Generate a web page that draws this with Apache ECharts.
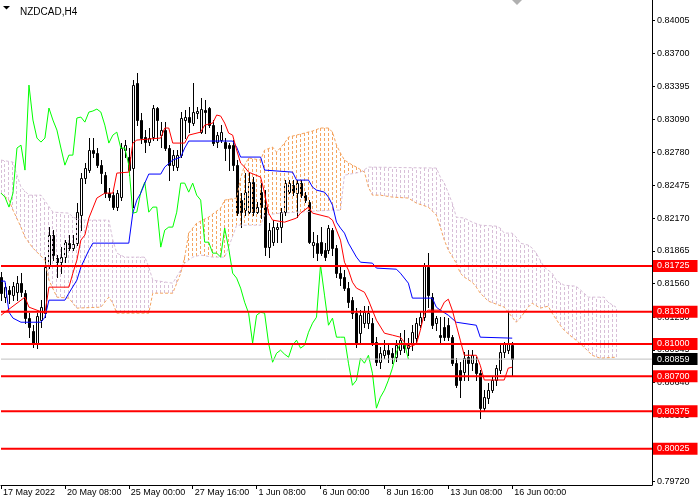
<!DOCTYPE html>
<html><head><meta charset="utf-8">
<script src="https://cdn.jsdelivr.net/npm/echarts@6/dist/echarts.min.js"></script>
<style>html,body{margin:0;padding:0;background:#fff}#c{width:700px;height:500px}</style>
</head><body><div id="c"></div>
<script>
const symbolName = 'NZDCAD,H4';
// [open, close, low, high] per H4 bar
const candles = [
[0.81621,0.81472,0.81407,0.81667],[0.81435,0.81528,0.81388,0.81565],[0.81500,0.81463,0.81379,0.81537],[0.81454,0.81537,0.81407,0.81574],
[0.81481,0.81565,0.81407,0.81630],[0.81565,0.81481,0.81444,0.81658],[0.81472,0.81240,0.81193,0.81500],[0.81240,0.81156,0.81063,0.81286],
[0.81119,0.81007,0.80970,0.81174],[0.81007,0.81258,0.80961,0.81286],[0.81221,0.81342,0.81156,0.81407],[0.81286,0.81714,0.81249,0.81807],
[0.81733,0.82012,0.81705,0.82086],[0.82012,0.81826,0.81779,0.82058],[0.81798,0.81760,0.81621,0.81826],[0.81760,0.81807,0.81658,0.81900],
[0.81807,0.81946,0.81760,0.81965],[0.81937,0.81891,0.81872,0.82012],[0.81891,0.81928,0.81872,0.82012],[0.81937,0.82225,0.81919,0.82309],
[0.82198,0.82542,0.82058,0.82588],[0.82542,0.82635,0.82495,0.82681],[0.82616,0.82802,0.82597,0.82914],[0.82802,0.82774,0.82737,0.82914],
[0.82774,0.82662,0.82644,0.82821],[0.82662,0.82588,0.82495,0.82709],[0.82569,0.82402,0.82365,0.82597],[0.82402,0.82365,0.82337,0.82449],
[0.82383,0.82272,0.82253,0.82411],[0.82272,0.82402,0.82244,0.82430],[0.82365,0.82821,0.82337,0.82867],[0.82802,0.82848,0.82737,0.82895],
[0.82737,0.82616,0.82569,0.82821],[0.82635,0.83406,0.82272,0.83453],[0.83425,0.83081,0.83034,0.83518],[0.83081,0.82914,0.82867,0.83146],
[0.82923,0.82876,0.82783,0.82988],[0.82876,0.82914,0.82848,0.83007],[0.82923,0.83193,0.82895,0.83220],[0.83193,0.83081,0.82895,0.83202],
[0.82941,0.82988,0.82830,0.83062],[0.82988,0.82821,0.82802,0.83062],[0.82821,0.82662,0.82523,0.82848],[0.82662,0.82755,0.82616,0.82802],
[0.82644,0.82755,0.82616,0.82802],[0.82755,0.83100,0.82737,0.83155],[0.83081,0.83109,0.82914,0.83174],[0.83109,0.83062,0.82969,0.83202],
[0.83053,0.83155,0.83034,0.83425],[0.83146,0.83165,0.83100,0.83202],[0.82969,0.83183,0.82960,0.83286],[0.83174,0.83155,0.82960,0.83267],
[0.83193,0.83034,0.83016,0.83202],[0.83034,0.82867,0.82848,0.83081],[0.82876,0.82941,0.82830,0.82969],[0.82895,0.82969,0.82876,0.83034],
[0.82876,0.82821,0.82709,0.82914],[0.82848,0.82821,0.82616,0.82867],[0.82848,0.82662,0.82616,0.82895],[0.82662,0.82216,0.82198,0.82709],
[0.82337,0.82225,0.82086,0.82402],[0.82244,0.82411,0.82198,0.82588],[0.82225,0.82504,0.82216,0.82588],[0.82504,0.82225,0.82198,0.82551],
[0.82225,0.82272,0.82216,0.82318],[0.82411,0.82272,0.82170,0.82495],[0.82272,0.81900,0.81826,0.82430],[0.81900,0.82058,0.81807,0.82123],
[0.81946,0.82086,0.81919,0.82151],[0.82067,0.82086,0.81946,0.82123],[0.82086,0.82225,0.81946,0.82263],[0.82225,0.82495,0.82198,0.82523],
[0.82411,0.82495,0.82402,0.82523],[0.82476,0.82411,0.82383,0.82523],[0.82402,0.82495,0.82179,0.82523],[0.82495,0.82383,0.82365,0.82523],
[0.82383,0.82337,0.82318,0.82411],[0.82318,0.81946,0.81937,0.82337],[0.81919,0.81946,0.81807,0.82039],[0.81937,0.81844,0.81779,0.82012],
[0.81946,0.81844,0.81826,0.82086],[0.81872,0.81807,0.81779,0.81937],[0.81872,0.82077,0.81844,0.82105],[0.82058,0.81891,0.81826,0.82077],
[0.81891,0.81658,0.81621,0.81919],[0.81658,0.81612,0.81546,0.81714],[0.81621,0.81519,0.81500,0.81686],[0.81519,0.81388,0.81342,0.81574],
[0.81407,0.81286,0.81240,0.81435],[0.81286,0.81007,0.80970,0.81333],[0.81100,0.81267,0.81007,0.81314],[0.81193,0.81295,0.81156,0.81351],
[0.81193,0.81286,0.81147,0.81351],[0.81193,0.81007,0.80988,0.81240],[0.81016,0.80830,0.80802,0.81063],[0.80830,0.80914,0.80775,0.80970],
[0.80895,0.80942,0.80868,0.81035],[0.80942,0.80905,0.80830,0.80988],[0.80914,0.80877,0.80821,0.80961],[0.80877,0.80988,0.80840,0.81035],
[0.80942,0.81035,0.80905,0.81100],[0.80988,0.80961,0.80923,0.81128],[0.80961,0.80988,0.80895,0.81054],[0.81007,0.81109,0.80942,0.81174],
[0.81054,0.81193,0.81016,0.81240],[0.81174,0.81249,0.81156,0.81295],[0.81249,0.81733,0.81221,0.81751],[0.81714,0.81454,0.81342,0.81844],
[0.81435,0.81174,0.81147,0.81472],[0.81193,0.81240,0.81128,0.81258],[0.81082,0.81063,0.81016,0.81249],[0.81156,0.81063,0.81035,0.81249],
[0.81174,0.81063,0.81035,0.81240],[0.81063,0.80821,0.80802,0.81082],[0.80821,0.80616,0.80598,0.80868],[0.80756,0.80663,0.80505,0.80830],
[0.80737,0.80868,0.80663,0.80923],[0.80877,0.80821,0.80663,0.80942],[0.80821,0.80895,0.80756,0.80942],[0.80821,0.80728,0.80663,0.80877],
[0.80728,0.80403,0.80310,0.80756],[0.80403,0.80505,0.80384,0.80570],[0.80496,0.80570,0.80449,0.80635],[0.80570,0.80663,0.80551,0.80691],
[0.80663,0.80775,0.80616,0.80802],[0.80756,0.80923,0.80728,0.81007],[0.80923,0.81007,0.80877,0.81016],[0.80942,0.81007,0.80914,0.81295],
[0.80988,0.80859,0.80711,0.81016]
];
// Ichimoku lines as [bar index, price] vertices
const tenkan = [[0,0.81267],[2,0.81323],[5,0.81407],[6,0.81435],[7,0.81342],[9,0.81314],[11,0.81286],[12,0.81528],[17,0.81528],[18,0.81658],[19,0.81779],[20,0.81965],[21,0.82012],[22,0.82170],[24,0.82356],[26,0.82402],[28,0.82402],[29,0.82588],[32,0.82597],[33,0.82867],[34,0.82895],[40,0.82914],[41,0.83007],[42,0.83007],[43,0.82867],[46,0.82867],[47,0.82941],[50,0.82969],[51,0.83034],[53,0.83053],[54,0.83128],[55,0.83118],[56,0.83053],[57,0.82960],[58,0.82941],[59,0.82802],[60,0.82681],[61,0.82644],[62,0.82597],[65,0.82551],[66,0.82402],[67,0.82216],[68,0.82151],[71,0.82132],[74,0.82170],[75,0.82216],[77,0.82272],[78,0.82216],[82,0.82179],[83,0.82151],[84,0.82058],[85,0.81965],[86,0.81760],[87,0.81686],[88,0.81574],[89,0.81519],[91,0.81481],[92,0.81407],[93,0.81314],[94,0.81221],[96,0.81100],[98,0.81082],[100,0.81063],[101,0.81016],[102,0.80970],[104,0.80998],[105,0.81128],[106,0.81286],[107,0.81314],[110,0.81314],[111,0.81388],[112,0.81416],[113,0.81314],[114,0.81174],[115,0.81035],[116,0.80895],[119,0.80895],[120,0.80802],[121,0.80665],[126,0.80665],[127,0.80775],[128,0.80784]];
const kijun = [[0,0.81584],[1,0.81584],[2,0.81295],[3,0.81240],[5,0.81202],[10,0.81202],[11,0.81249],[12,0.81407],[16,0.81407],[17,0.81472],[19,0.81593],[20,0.81714],[22,0.81872],[23,0.81937],[32,0.81937],[33,0.82216],[34,0.82337],[35,0.82402],[36,0.82495],[37,0.82579],[40,0.82579],[41,0.82644],[43,0.82709],[45,0.82737],[46,0.82821],[47,0.82886],[58,0.82886],[59,0.82830],[60,0.82737],[65,0.82737],[66,0.82616],[73,0.82597],[74,0.82523],[77,0.82523],[78,0.82458],[79,0.82430],[81,0.82411],[82,0.82365],[83,0.82290],[84,0.82132],[85,0.82077],[86,0.82030],[87,0.81937],[89,0.81807],[90,0.81760],[93,0.81751],[94,0.81705],[99,0.81695],[100,0.81658],[102,0.81565],[103,0.81426],[108,0.81426],[109,0.81342],[110,0.81314],[112,0.81267],[114,0.81202],[119,0.81174],[120,0.81063],[128,0.81054]];
const senkouA = [[0,0.82402],[2,0.82337],[3,0.82244],[5,0.82086],[6,0.81993],[8,0.81891],[11,0.81779],[12,0.81593],[14,0.81435],[17,0.81426],[19,0.81333],[25,0.81342],[27,0.81435],[28,0.81379],[29,0.81286],[37,0.81286],[38,0.81472],[43,0.81472],[45,0.81658],[46,0.81807],[47,0.82030],[49,0.82123],[52,0.82179],[55,0.82263],[56,0.82337],[59,0.82356],[60,0.82542],[61,0.82662],[62,0.82728],[65,0.82709],[66,0.82802],[68,0.82830],[69,0.82783],[71,0.82867],[72,0.82923],[76,0.82960],[78,0.82979],[80,0.83007],[82,0.83007],[83,0.82969],[84,0.82848],[85,0.82774],[86,0.82709],[88,0.82662],[89,0.82644],[91,0.82597],[92,0.82458],[93,0.82383],[95,0.82383],[98,0.82365],[102,0.82356],[104,0.82309],[107,0.82272],[109,0.82198],[110,0.82086],[111,0.81965],[112,0.81872],[114,0.81751],[115,0.81658],[116,0.81621],[118,0.81574],[119,0.81528],[120,0.81472],[122,0.81398],[124,0.81370],[126,0.81342],[128,0.81249],[129,0.81202],[130,0.81240],[132,0.81342],[133,0.81379],[135,0.81333],[137,0.81351],[138,0.81286],[140,0.81174],[141,0.81128],[143,0.81063],[144,0.81035],[146,0.80970],[148,0.80895],[150,0.80868],[154,0.80877]];
const senkouB = [[0,0.82709],[3,0.82690],[4,0.82569],[5,0.82458],[7,0.82383],[10,0.82383],[13,0.82225],[17,0.82216],[18,0.82179],[20,0.82151],[27,0.82151],[28,0.81965],[29,0.81844],[31,0.81807],[36,0.81807],[37,0.81714],[38,0.81593],[43,0.81565],[45,0.81686],[46,0.81751],[48,0.81807],[50,0.81826],[53,0.81807],[56,0.81807],[57,0.81900],[59,0.82104],[65,0.82104],[66,0.82198],[70,0.82216],[83,0.82244],[85,0.82244],[86,0.82569],[90,0.82597],[92,0.82644],[109,0.82635],[110,0.82551],[111,0.82495],[112,0.82402],[113,0.82309],[114,0.82179],[116,0.82170],[118,0.82132],[120,0.82104],[124,0.82095],[125,0.82077],[126,0.82030],[128,0.82030],[129,0.81993],[130,0.81937],[132,0.81919],[133,0.81891],[134,0.81844],[135,0.81779],[136,0.81714],[137,0.81686],[138,0.81658],[139,0.81593],[141,0.81546],[144,0.81537],[146,0.81472],[147,0.81435],[151,0.81435],[152,0.81388],[154,0.81342]];
const chikouShift = 26;
const levels = [0.81725,0.81300,0.81000,0.80700,0.80375,0.80025];
const lastPrice = 0.80859;
const yTicks = [0.84005,0.83700,0.83395,0.83090,0.82780,0.82475,0.82170,0.81865,0.81560,0.81250,0.80945,0.80640,0.80335,0.80025,0.79720];
const xLabelIdx = [0,16,32,48,64,80,96,112,128];
const xLabelText = ['17 May 2022','20 May 08:00','25 May 00:00','27 May 16:00','1 Jun 08:00','6 Jun 00:00','8 Jun 16:00','13 Jun 08:00','16 Jun 00:00'];
const totalBars = 164;

function valueAt(pts, i) {
  for (let k = 0; k < pts.length - 1; k++) {
    const [x0, y0] = pts[k], [x1, y1] = pts[k + 1];
    if (i >= x0 && i <= x1) return x1 === x0 ? y0 : y0 + (y1 - y0) * (i - x0) / (x1 - x0);
  }
  return null;
}
const categories = Array.from({length: totalBars}, (_, i) => String(i));
const candleRows = candles.map((c, i) => [i, c[0], c[1], c[2], c[3]]);
const chikou = candles.slice(chikouShift).map((c, j) => [j, c[1]]);
const cloudBars = [];
for (let i = senkouA[0][0]; i <= senkouA[senkouA.length - 1][0]; i++) {
  cloudBars.push([i, valueAt(senkouA, i), valueAt(senkouB, i)]);
}
const labelMap = new Map(xLabelIdx.map((idx, k) => [idx, xLabelText[k]]));
const FONT = 'Liberation Sans';

function hLine(v, color, width, bg, z) {
  return {
    type: 'line', data: [[0, v], [totalBars - 1, v]], symbol: 'none', z: z, silent: true,
    lineStyle: {color: color, width: width},
    endLabel: {show: true, formatter: v.toFixed(5), backgroundColor: bg, color: '#fff',
               fontSize: 9, fontFamily: FONT, padding: [2, 8, 1, 4], distance: 1}
  };
}

const chart = echarts.init(document.getElementById('c'));
chart.setOption({
  animation: false,
  backgroundColor: '#fff',
  textStyle: {fontFamily: FONT},
  title: {text: symbolName, left: 15, top: 2,
          textStyle: {fontSize: 10, fontWeight: 'normal', color: '#000', fontFamily: FONT}},
  graphic: [
    {type: 'polygon', shape: {points: [[3, 6], [10, 6], [6.5, 9.5]]}, style: {fill: '#000'}},
    {type: 'polygon', shape: {points: [[512, 0], [522, 0], [517, 5]]}, style: {fill: '#B0B0B0'}}
  ],
  grid: {left: 0, right: 48, top: 0, bottom: 15, containLabel: false},
  xAxis: {
    type: 'category', data: categories, boundaryGap: false,
    axisLine: {show: true, lineStyle: {color: '#000', width: 1}},
    axisTick: {show: true, interval: (i) => labelMap.has(i), length: 4, lineStyle: {color: '#000'}},
    axisLabel: {interval: (i) => labelMap.has(i), formatter: (v, i) => labelMap.get(i) || '',
                align: 'left', margin: 3, fontSize: 9, color: '#000', fontFamily: FONT, padding: [0, 0, 0, 2]},
    splitLine: {show: false}
  },
  yAxis: {
    type: 'value', position: 'right', min: 0.79689, max: 0.84197,
    splitLine: {show: false},
    axisLine: {show: true, lineStyle: {color: '#000', width: 1}},
    axisTick: {show: true, customValues: yTicks, length: 3, lineStyle: {color: '#000'}},
    axisLabel: {customValues: yTicks, formatter: v => v.toFixed(5), color: '#000', fontSize: 9, fontFamily: FONT, margin: 5}
  },
  series: [
    {
      type: 'custom', data: candleRows, z: 2, silent: true,
      encode: {x: 0, y: [1, 2, 3, 4]},
      renderItem: (params, api) => {
        const i = api.value(0), o = api.value(1), c = api.value(2), l = api.value(3), h = api.value(4);
        const pO = api.coord([i, o]), pC = api.coord([i, c]), pL = api.coord([i, l]), pH = api.coord([i, h]);
        const x = Math.round(pO[0]) + 0.5;
        const top = Math.round(Math.min(pO[1], pC[1])) + 0.5;
        const bot = Math.round(Math.max(pO[1], pC[1])) + 0.5;
        return {type: 'group', children: [
          {type: 'line', shape: {x1: x, y1: Math.round(pH[1]), x2: x, y2: Math.round(pL[1]) + 1},
           style: {stroke: '#000', lineWidth: 1}},
          {type: 'rect', shape: {x: x - 1, y: top, width: 2, height: Math.max(bot - top, 0)},
           style: {fill: c >= o ? '#fff' : '#000', stroke: '#000', lineWidth: 1}}
        ]};
      }
    },
    {
      type: 'custom', data: cloudBars, z: 3, silent: true,
      encode: {x: 0, y: [1, 2]},
      renderItem: (params, api) => {
        const i = api.value(0), a = api.value(1), b = api.value(2);
        const pa = api.coord([i, a]), pb = api.coord([i, b]);
        const x = Math.floor(pa[0]) + 0.5;
        return {type: 'line', shape: {x1: x, y1: Math.round(pa[1]), x2: x, y2: Math.round(pb[1])},
                style: {stroke: a > b ? '#F4A460' : '#D8BFD8', lineWidth: 1, lineDash: [3, 2]}};
      }
    },
    {type: 'line', data: senkouA, symbol: 'none', z: 3, lineStyle: {color: '#F4A460', width: 1, type: [3, 2]}},
    {type: 'line', data: senkouB, symbol: 'none', z: 3, lineStyle: {color: '#D8BFD8', width: 1, type: [3, 2]}},
    {type: 'line', data: chikou, symbol: 'none', z: 4, lineStyle: {color: '#00FF00', width: 1}},
    {type: 'line', data: kijun, symbol: 'none', z: 4, lineStyle: {color: '#0000FF', width: 1}},
    {type: 'line', data: tenkan, symbol: 'none', z: 4, lineStyle: {color: '#FF0000', width: 1}},
    hLine(lastPrice, '#C0C0C0', 1, '#000', 5),
    ...levels.map(v => hLine(v, '#FF0000', 2, '#FF0000', 6))
  ]
});
</script>
</body></html>
